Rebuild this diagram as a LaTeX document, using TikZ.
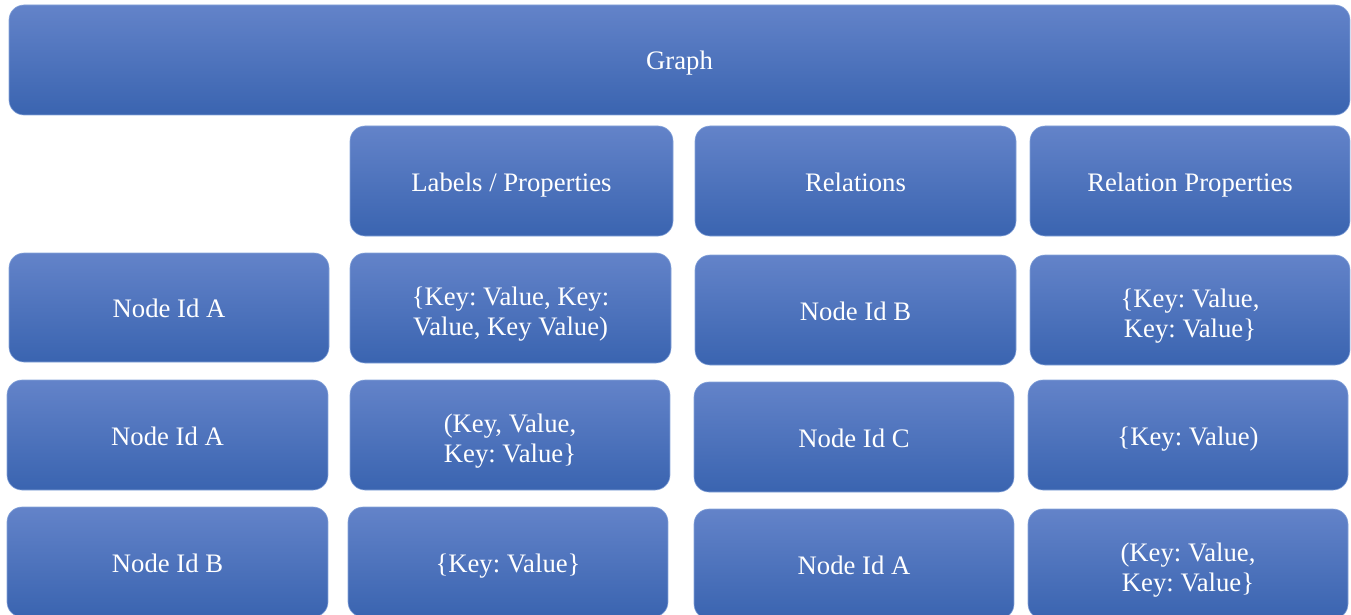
\documentclass[tikz,border=0pt]{standalone}
\usepackage{fontspec}
\setmainfont{Liberation Serif}
\frenchspacing
\definecolor{btop}{HTML}{6383C9}
\definecolor{bmid}{HTML}{4472C4}
\definecolor{bbot}{HTML}{3A64B0}
\begin{document}
\begin{tikzpicture}[x=1pt,y=-1pt,
  box/.style={rounded corners=15pt, top color=btop, middle color=bmid, bottom color=bbot,
    draw=white!35!bmid, line width=0.6pt, inner sep=0pt,
    minimum height=110pt, minimum width=320pt},
  txt/.style={text=white, align=center, inner sep=0pt,
    font=\fontsize{26.7}{29.4}\selectfont}]
\useasboundingbox (0,0) rectangle (1351,615);
\clip (0,0) rectangle (1351,615);
% one-line box
\newcommand\onebox[4][]{%
  \node[box,#1] (#2) at (#3) {};
  \node[txt, anchor=base] (#2-t) at ([yshift=-10pt]#2.center) {#4};}
% two-line box
\newcommand\twobox[5][]{%
  \node[box,#1] (#2) at (#3) {};
  \node[txt] (#2-t) at ([yshift=-6pt]#2.center) {#4\\#5};}
\onebox[minimum width=1341pt]{graph}{679.5,60}{Graph}
\onebox[minimum width=323pt]{lp}{511.5,181}{Labels / Properties}
\onebox[minimum width=321pt]{rel}{855.5,181}{Relations}
\onebox{rp}{1190,181}{Relation Properties}
\onebox[minimum height=109pt]{n2a}{169,307.5}{Node Id A}
\twobox[minimum width=321pt]{n2b}{510.5,308}{\{Key: Value, Key:}{Value, Key Value)}
\onebox[minimum width=321pt]{n2c}{855.5,310}{Node Id B}
\twobox{n2d}{1190,310}{\{Key: Value,}{Key: Value\}}
\onebox[minimum width=321pt]{n3a}{167.5,435}{Node Id A}
\twobox{n3b}{510,435}{(Key, Value,}{Key: Value\}}
\onebox{n3c}{854,437}{Node Id C}
\onebox{n3d}{1188,435}{\{Key: Value)}
\onebox[minimum width=321pt]{n4a}{167.5,562}{Node Id B}
\onebox{n4b}{508,562}{\{Key: Value\}}
\onebox{n4c}{854,564}{Node Id A}
\twobox{n4d}{1188,564}{(Key: Value,}{Key: Value\}}
\end{tikzpicture}
\end{document}
